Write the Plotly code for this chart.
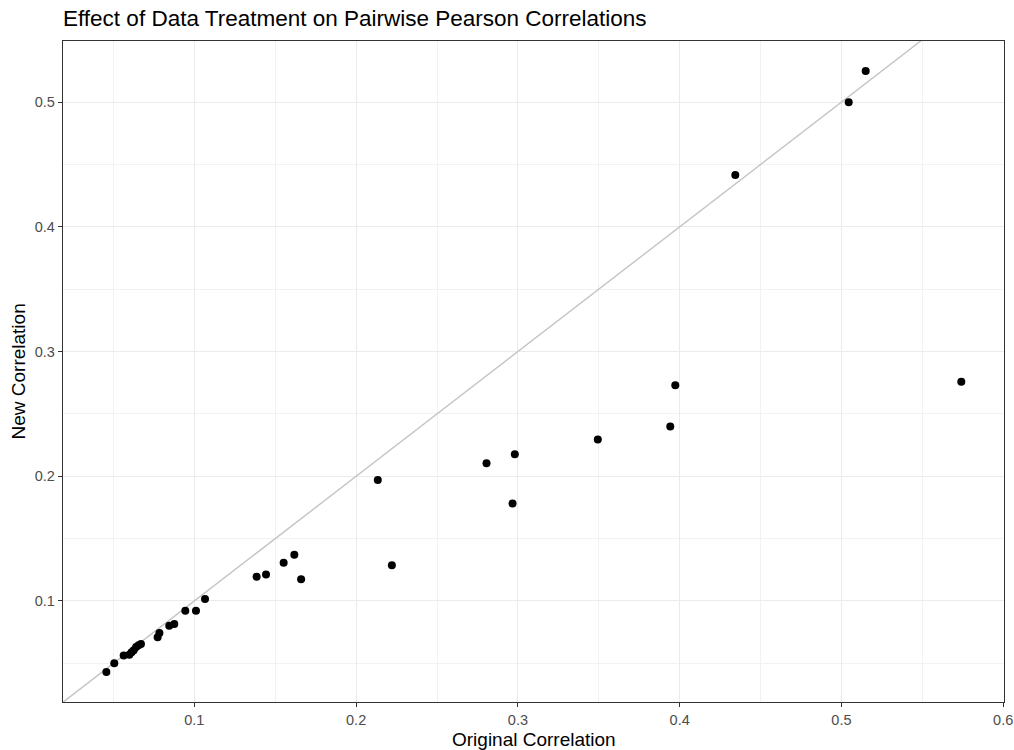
import plotly.graph_objects as go

# Original vs new pairwise Pearson correlations
original_corr = [0.0456, 0.0505, 0.0563, 0.0598, 0.0612, 0.0625, 0.0640, 0.0655, 0.0670,
                 0.0773, 0.0784, 0.0845, 0.0876, 0.0944, 0.1010, 0.1066,
                 0.1385, 0.1443, 0.1552, 0.1618, 0.1660, 0.2134, 0.2221,
                 0.2806, 0.2981, 0.2967, 0.3494, 0.3942, 0.3973,
                 0.4344, 0.5045, 0.5150, 0.5741]
new_corr = [0.0430, 0.0501, 0.0563, 0.0568, 0.0588, 0.0605, 0.0630, 0.0645, 0.0656,
            0.0709, 0.0744, 0.0802, 0.0816, 0.0922, 0.0922, 0.1016,
            0.1194, 0.1213, 0.1306, 0.1370, 0.1174, 0.1970, 0.1286,
            0.2104, 0.2176, 0.1782, 0.2294, 0.2400, 0.2730,
            0.4416, 0.4998, 0.5250, 0.2758]

identity_line = [0.0, 1.0]

title_text = "Effect of Data Treatment on Pairwise Pearson Correlations"
x_title = "Original Correlation"
y_title = "New Correlation"

x_range = [0.0188, 0.6005]
y_range = [0.0190, 0.5490]

FONT = "Liberation Sans, Arial, sans-serif"
W, H = 1014, 750
ML, MR, MT, MB = 63, 10, 41, 48
PW, PH = W - ML - MR, H - MT - MB

fig = go.Figure()
fig.add_trace(go.Scatter(
    x=identity_line, y=identity_line, mode="lines",
    line=dict(color="#c4c4c4", width=1.4), hoverinfo="skip", showlegend=False))
fig.add_trace(go.Scatter(
    x=original_corr, y=new_corr, mode="markers",
    marker=dict(color="black", size=8, line=dict(width=0)), showlegend=False))

axis_common = dict(
    showline=True, mirror=True, linecolor="#333333", linewidth=1.3,
    showgrid=True, gridcolor="#ebebeb", gridwidth=1.1,
    zeroline=False, automargin=False,
    ticks="outside", ticklen=4, tickcolor="#333333", tickwidth=1,
    tickfont=dict(family=FONT, size=14.5, color="#4d4d4d"),
    tick0=0, dtick=0.1, tickformat=".1f",
    minor=dict(dtick=0.05, showgrid=True, gridcolor="#f2f2f2", gridwidth=0.8, ticks=""),
)

fig.update_layout(
    width=W, height=H,
    margin=dict(l=ML, r=MR, t=MT, b=MB),
    paper_bgcolor="white", plot_bgcolor="white",
    font=dict(family=FONT, color="black"),
    title=dict(text=title_text, x=ML / W, xanchor="left", y=1 - 18 / H, yanchor="middle",
               font=dict(family=FONT, size=22.5, color="black")),
    xaxis=dict(range=x_range, **axis_common),
    yaxis=dict(range=y_range, **axis_common),
    annotations=[
        dict(text=x_title, xref="paper", yref="paper", x=0.5, y=-(739 - (H - MB)) / PH,
             xanchor="center", yanchor="middle", showarrow=False,
             font=dict(family=FONT, size=19, color="black")),
        dict(text=y_title, xref="paper", yref="paper", x=-(ML - 18) / PW, y=0.5,
             xanchor="center", yanchor="middle", textangle=-90, showarrow=False,
             font=dict(family=FONT, size=19, color="black")),
    ],
)

fig.write_html("out.html")
